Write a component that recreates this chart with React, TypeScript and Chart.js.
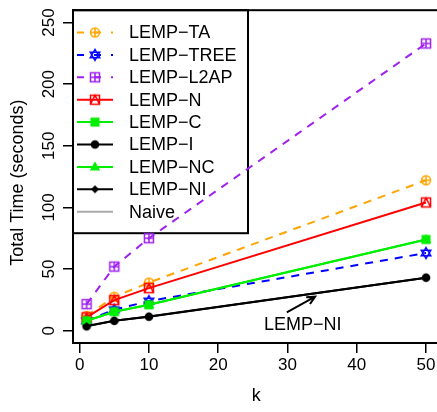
import React, { useEffect, useRef } from "react";
import { Chart, registerables } from "chart.js";

Chart.register(...registerables);

// ---- data ----
const kValues = [1, 5, 10, 50];
const seriesNames = [
  "LEMP\u2212TA",
  "LEMP\u2212TREE",
  "LEMP\u2212L2AP",
  "LEMP\u2212N",
  "LEMP\u2212C",
  "LEMP\u2212I",
  "LEMP\u2212NC",
  "LEMP\u2212NI",
  "Naive",
];
const lempTA = [12, 27.5, 39, 122];
const lempTREE = [8, 17, 24, 63];
const lempL2AP = [21.5, 52, 75, 233];
const lempN = [10.8, 24.8, 34.5, 104];
const lempC = [8, 15.4, 21, 74];
const lempI = [3.5, 8, 11.3, 43];
const lempNC = [8, 15.4, 21, 74];
const lempNI = [3.8, 8, 11.5, 43];
const naive: number[] = [];
const xTicks = [0, 10, 20, 30, 40, 50];
const yTicks = [0, 50, 100, 150, 200, 250];
const xTitle = "k";
const yTitle = "Total Time (seconds)";

const annotationText = "LEMP\u2212NI";
const annotationAt = [32.2, 4.6];
const arrowFrom = [29.9, 14.9];
const arrowTo = [34.0, 27.6];

// ---- styles ----
const colors = ["#FFA500", "#0000FF", "#A020F0", "#FF0000", "#00EE00", "#000000", "#00EE00", "#000000", "#AAAAAA"];
const symbols = ["circlePlus", "star", "squarePlus", "squareTri", "square", "dot", "triangle", "diamond", "none"];
const dashed = [true, true, true, false, false, false, false, false, false];
const FONT = '"Liberation Sans", Arial, Helvetica, sans-serif';

function makeSymbol(kind: string, color: string): HTMLCanvasElement {
  const s = 16;
  const c = document.createElement("canvas");
  c.width = s;
  c.height = s;
  const g = c.getContext("2d")!;
  const m = s / 2;
  g.strokeStyle = color;
  g.fillStyle = color;
  g.lineWidth = 1.5;
  const r = 4.5;
  g.beginPath();
  switch (kind) {
    case "circlePlus":
      g.arc(m, m, r, 0, Math.PI * 2);
      g.moveTo(m - r, m); g.lineTo(m + r, m);
      g.moveTo(m, m - r); g.lineTo(m, m + r);
      g.stroke();
      break;
    case "star": {
      const R = 5.5;
      for (const dir of [1, -1]) {
        g.moveTo(m, m - dir * R);
        g.lineTo(m + R * 0.866, m + dir * R * 0.5);
        g.lineTo(m - R * 0.866, m + dir * R * 0.5);
        g.closePath();
      }
      g.stroke();
      break;
    }
    case "squarePlus":
      g.rect(m - r, m - r, 2 * r, 2 * r);
      g.moveTo(m - r, m); g.lineTo(m + r, m);
      g.moveTo(m, m - r); g.lineTo(m, m + r);
      g.stroke();
      break;
    case "squareTri":
      g.rect(m - r, m - r, 2 * r, 2 * r);
      g.moveTo(m - r, m + r); g.lineTo(m, m - r); g.lineTo(m + r, m + r);
      g.stroke();
      break;
    case "square":
      g.fillRect(m - r, m - r, 2 * r, 2 * r);
      break;
    case "dot":
      g.arc(m, m, 4.3, 0, Math.PI * 2);
      g.fill();
      break;
    case "triangle":
      g.moveTo(m, m - 5.5);
      g.lineTo(m + 5.2, m + 3.5);
      g.lineTo(m - 5.2, m + 3.5);
      g.closePath();
      g.fill();
      break;
    case "diamond":
      g.moveTo(m, m - 4); g.lineTo(m + 4, m); g.lineTo(m, m + 4); g.lineTo(m - 4, m);
      g.closePath();
      g.fill();
      break;
    default:
      break;
  }
  return c;
}

export default function App() {
  const ref = useRef<HTMLCanvasElement | null>(null);

  useEffect(() => {
    if (!ref.current) return;
    const allSeries = [lempTA, lempTREE, lempL2AP, lempN, lempC, lempI, lempNC, lempNI, naive];
    const symCanvases = symbols.map((s, i) => makeSymbol(s, colors[i]));

    const datasets = allSeries.map((vals, i) => ({
      label: seriesNames[i],
      data: vals.map((v, j) => ({ x: kValues[j], y: v })),
      borderColor: colors[i],
      backgroundColor: colors[i],
      borderWidth: 2,
      borderDash: dashed[i] ? [8, 7] : [],
      pointStyle: symbols[i] === "none" ? false : (symCanvases[i] as any),
      pointRadius: 5,
      tension: 0,
      order: allSeries.length - i,
    }));

    const legendPlugin = {
      id: "rLegend",
      beforeDatasetsDraw(chart: any) {
        const { ctx, chartArea } = chart;
        const left = chartArea.left;
        const top = chartArea.top;
        const w = 175;
        const h = 223;
        ctx.save();
        ctx.fillStyle = "#fff";
        ctx.fillRect(left, top, w, h);
        ctx.strokeStyle = "#000";
        ctx.lineWidth = 2;
        ctx.strokeRect(left, top, w, h);
        const y0 = top + 22.3;
        const dy = 22.4;
        seriesNames.forEach((name, i) => {
          const y = y0 + i * dy;
          ctx.beginPath();
          ctx.strokeStyle = colors[i];
          ctx.lineWidth = 2;
          ctx.setLineDash(dashed[i] ? [7, 10] : []);
          ctx.moveTo(left + 4, y);
          ctx.lineTo(left + 40, y);
          ctx.stroke();
          ctx.setLineDash([]);
          if (symbols[i] !== "none") {
            const sc = symCanvases[i];
            ctx.drawImage(sc, left + 22 - sc.width / 2, y - sc.height / 2);
          }
          ctx.fillStyle = "#000";
          ctx.font = `18px ${FONT}`;
          ctx.textBaseline = "middle";
          ctx.textAlign = "left";
          ctx.fillText(name, left + 56, y + 1);
        });
        // y axis title (R places it slightly lower than the plot centre)
        const ys = chart.scales.y;
        ctx.save();
        ctx.translate(ys.left + 18, (chartArea.top + chartArea.bottom) / 2 + 6);
        ctx.rotate(-Math.PI / 2);
        ctx.textAlign = "center";
        ctx.textBaseline = "middle";
        ctx.fillStyle = "#000";
        ctx.font = `18px ${FONT}`;
        ctx.fillText(yTitle, 0, 0);
        ctx.restore();
        ctx.restore();
      },
    };

    const annotationPlugin = {
      id: "rAnnot",
      afterDatasetsDraw(chart: any) {
        const { ctx, scales, chartArea } = chart;
        const xs = scales.x;
        const ys = scales.y;
        ctx.save();
        ctx.fillStyle = "#000";
        ctx.font = `18px ${FONT}`;
        ctx.textAlign = "center";
        ctx.textBaseline = "middle";
        ctx.fillText(annotationText, xs.getPixelForValue(annotationAt[0]), ys.getPixelForValue(annotationAt[1]));
        const x1 = xs.getPixelForValue(arrowFrom[0]);
        const y1 = ys.getPixelForValue(arrowFrom[1]);
        const x2 = xs.getPixelForValue(arrowTo[0]);
        const y2 = ys.getPixelForValue(arrowTo[1]);
        const ang = Math.atan2(y2 - y1, x2 - x1);
        const hl = 9;
        ctx.strokeStyle = "#000";
        ctx.lineWidth = 2;
        ctx.beginPath();
        ctx.moveTo(x1, y1);
        ctx.lineTo(x2, y2);
        ctx.moveTo(x2 - hl * Math.cos(ang - 0.45), y2 - hl * Math.sin(ang - 0.45));
        ctx.lineTo(x2, y2);
        ctx.lineTo(x2 - hl * Math.cos(ang + 0.45), y2 - hl * Math.sin(ang + 0.45));
        ctx.stroke();
        ctx.lineWidth = 2;
        ctx.strokeRect(chartArea.left, chartArea.top, chartArea.right - chartArea.left, chartArea.bottom - chartArea.top);
        ctx.restore();
      },
    };

    const chart = new Chart(ref.current, {
      type: "line",
      data: { datasets: datasets as any },
      options: {
        animation: false,
        responsive: false,
        maintainAspectRatio: false,
        layout: { padding: { left: 0, right: 10.4, top: 10, bottom: 0 } },
        plugins: {
          legend: { display: false },
          tooltip: { enabled: false },
        },
        scales: {
          x: {
            type: "linear",
            min: -0.96,
            max: 51.96,
            afterFit: (s: any) => { s.height = 69; },
            afterBuildTicks: (s: any) => { s.ticks = xTicks.map((v) => ({ value: v })); },
            grid: { drawOnChartArea: false, drawTicks: true, tickLength: 10, color: "#000", lineWidth: 1.5 },
            border: { display: true, color: "#000", width: 2 },
            ticks: { color: "#000", font: { family: FONT, size: 17 }, padding: 2, maxRotation: 0, minRotation: 0 },
            title: { display: true, text: xTitle, color: "#000", font: { family: FONT, size: 18 }, padding: { top: 0, bottom: 5 } },
          },
          y: {
            type: "linear",
            min: -10,
            max: 260,
            afterFit: (s: any) => { s.width = 73; },
            afterBuildTicks: (s: any) => { s.ticks = yTicks.map((v) => ({ value: v })); },
            grid: { drawOnChartArea: false, drawTicks: true, tickLength: 10, color: "#000", lineWidth: 1.5 },
            border: { display: true, color: "#000", width: 2 },
            ticks: { color: "#000", font: { family: FONT, size: 17 }, padding: 0, minRotation: 90, maxRotation: 90, crossAlign: "center" },
            title: { display: false },
          },
        },
      },
      plugins: [legendPlugin, annotationPlugin],
    });
    return () => chart.destroy();
  }, []);

  return (
    <div style={{ position: "fixed", left: 0, top: 0, width: 437, height: 412, overflow: "hidden", background: "#fff" }}>
      <canvas ref={ref} width={450} height={412} style={{ display: "block", width: 450, height: 412 }} />
    </div>
  );
}
